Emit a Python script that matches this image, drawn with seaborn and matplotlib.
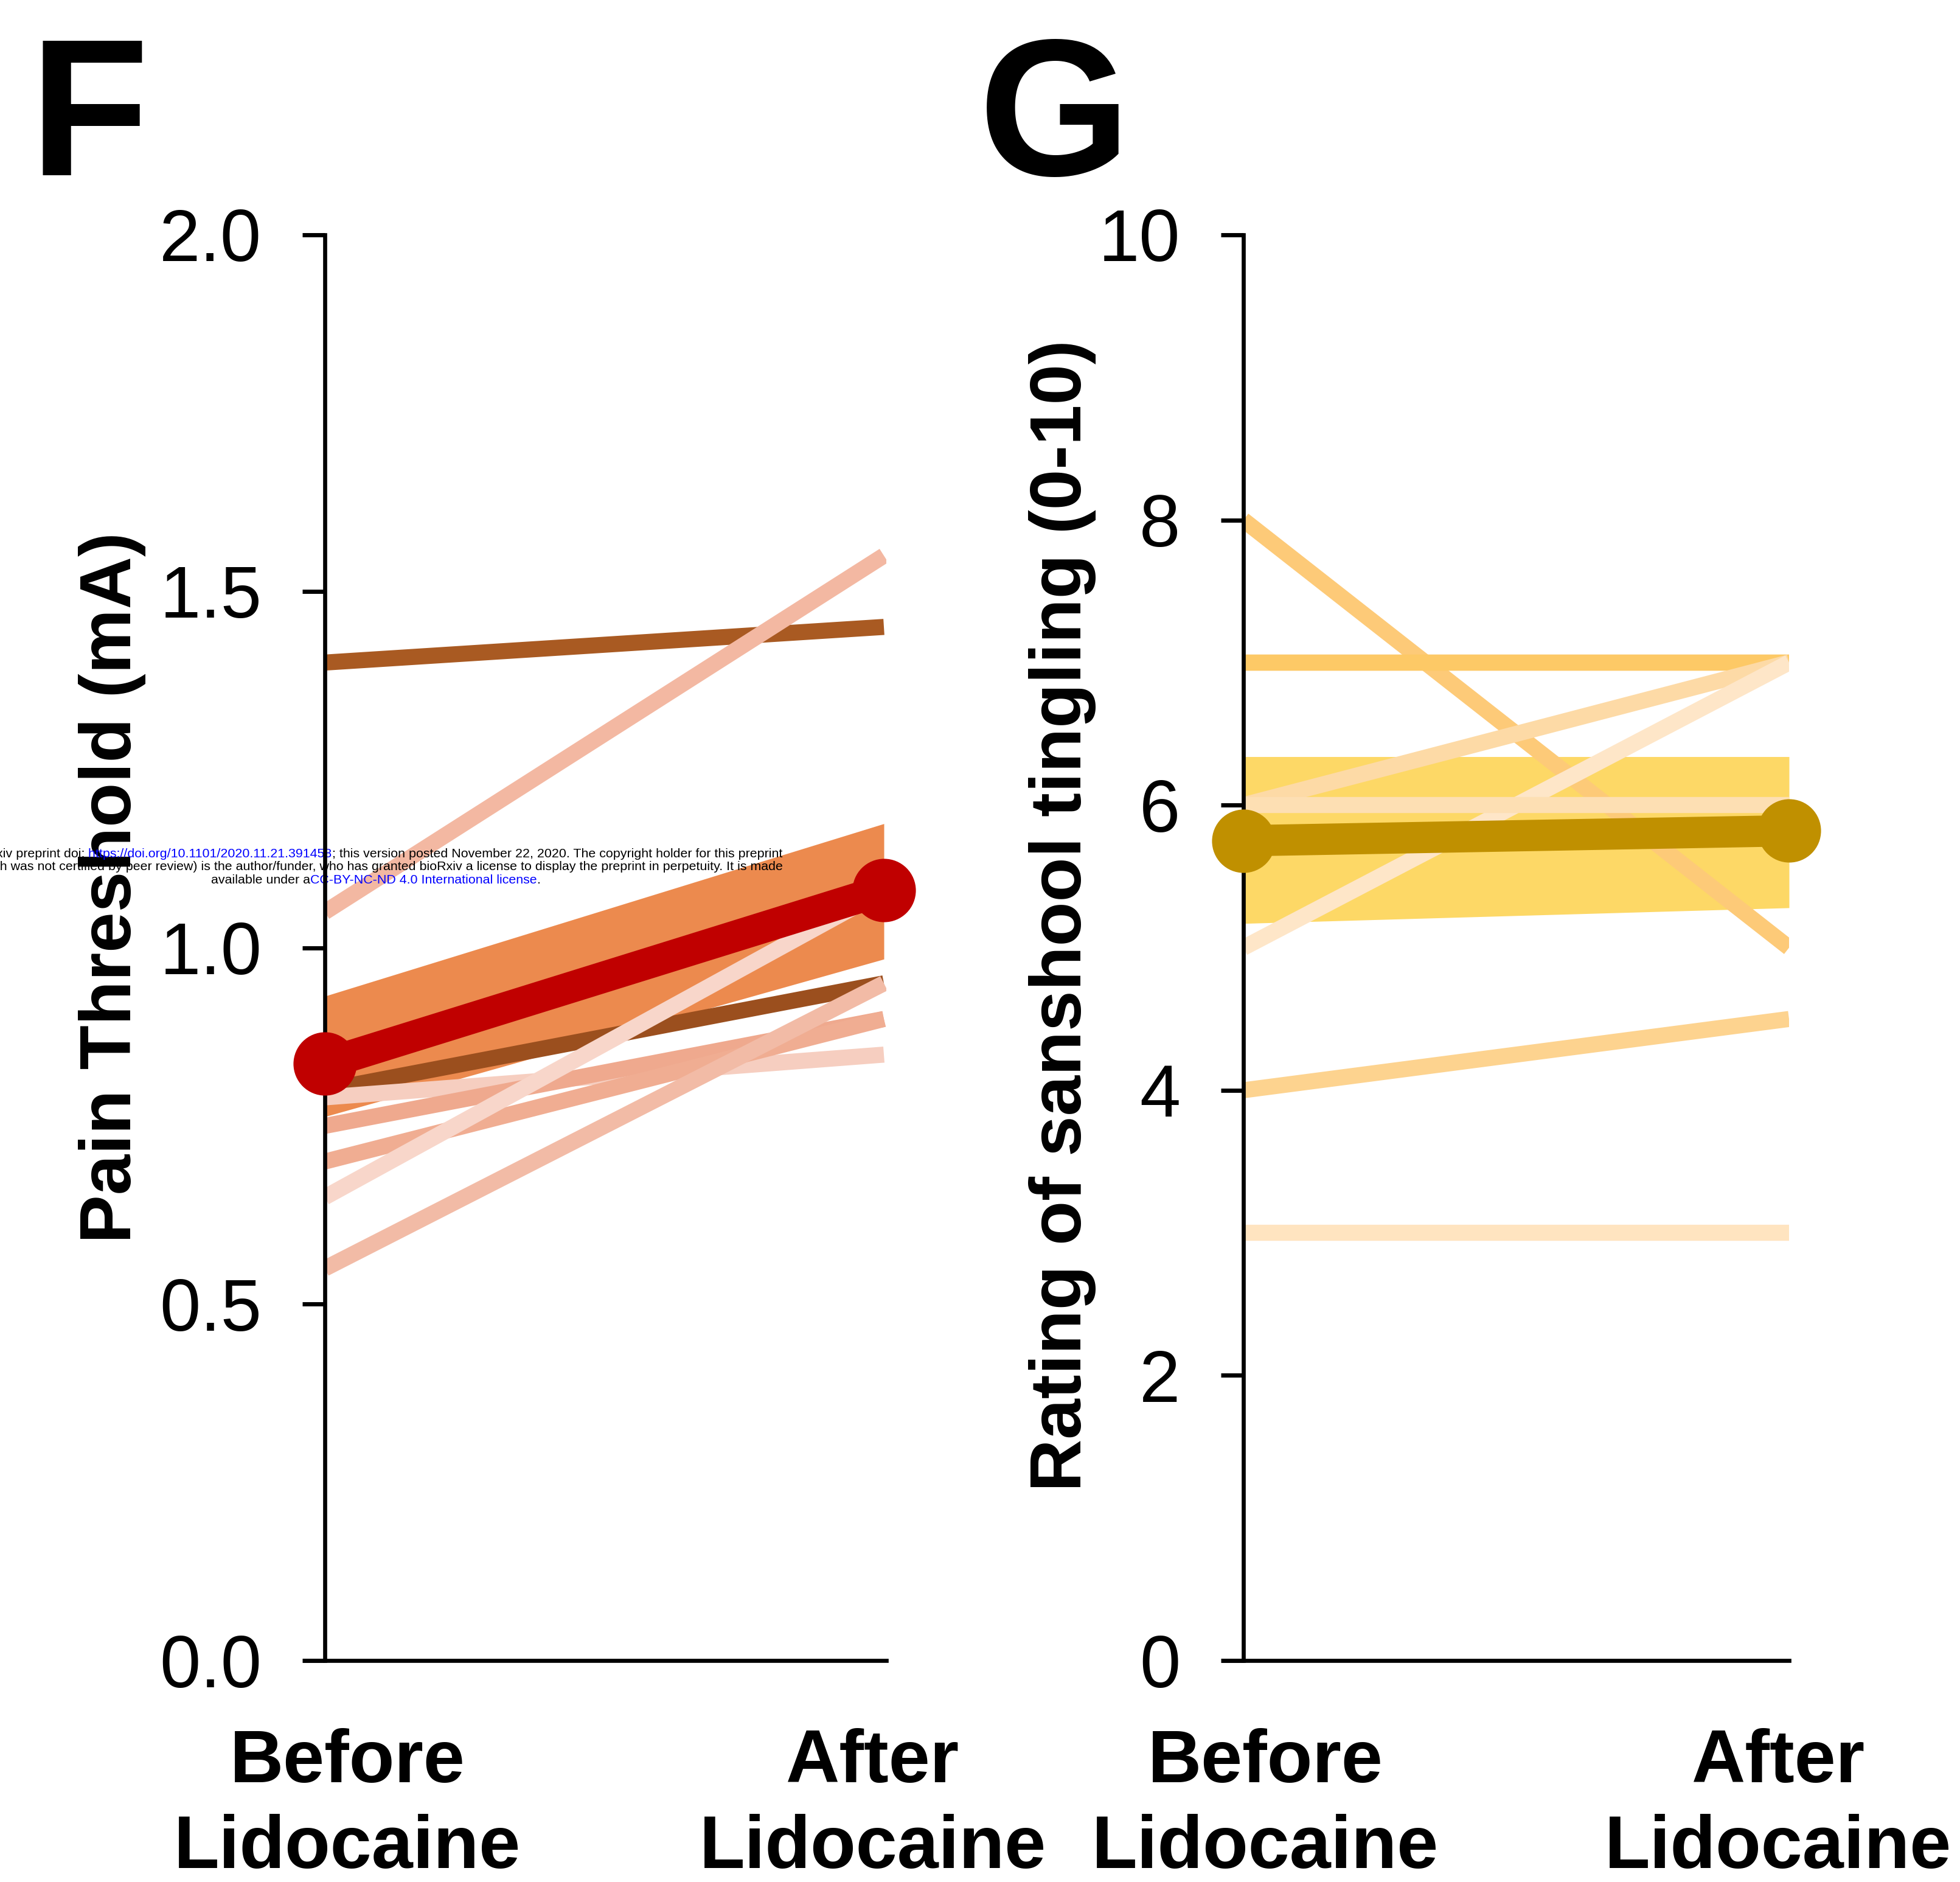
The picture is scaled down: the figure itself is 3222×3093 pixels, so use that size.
import matplotlib
matplotlib.use("Agg")
import matplotlib.pyplot as plt
from matplotlib.transforms import IdentityTransform
import seaborn as sns
import pandas as pd

sns.set_theme(style="ticks")
plt.rcParams['font.family'] = ['Liberation Sans', 'DejaVu Sans']
plt.rcParams['text.color'] = 'black'
plt.rcParams['axes.labelcolor'] = 'black'
plt.rcParams['xtick.color'] = 'black'
plt.rcParams['ytick.color'] = 'black'

# ---------------- data ----------------
conditions = ["Before\nLidocaine", "After\nLidocaine"]
cond_x = [0, 1]

# Panel F: pain threshold (mA)
pain_before = [1.40, 1.05, 0.80, 0.79, 0.75, 0.70, 0.65, 0.55]
pain_after = [1.45, 1.55, 0.95, 0.85, 0.90, 0.90, 1.08, 0.95]
pain_colors = ["#A95A22", "#F3B8A2", "#9B4F1E", "#F6CEC0",
               "#EFA98E", "#F0AD92", "#F8D6CA", "#F2BBA6"]
pain_mean = [0.837, 1.081]
pain_ci_low = [0.763, 0.984]
pain_ci_high = [0.932, 1.174]
pain_ticks = [0.0, 0.5, 1.0, 1.5, 2.0]
pain_ticklabels = ["0.0", "0.5", "1.0", "1.5", "2.0"]

# Panel G: sanshool tingling rating
ting_before = [8, 7, 7, 6, 5, 6, 4, 3]
ting_after = [5, 7, 7, 7, 7, 6, 4.5, 3]
ting_colors = ["#FDCA78", "#FDC966", "#FDC966", "#FDDAA6",
               "#FEE6C8", "#FDDFB3", "#FDD38F", "#FFE4C0"]
ting_mean = [5.75, 5.82]
ting_ci_low = [5.17, 5.28]
ting_ci_high = [6.34, 6.34]
ting_ticks = [0, 2, 4, 6, 8, 10]
ting_ticklabels = ["0", "2", "4", "6", "8", "10"]

# ---------------- figure ----------------
W, H = 3222, 3093
fig = plt.figure(figsize=(W / 100, H / 100), dpi=100)


def axrect(x0, x1, ytop, ybot):
    return [x0 / W, (H - ybot) / H, (x1 - x0) / W, (ybot - ytop) / H]


ax1 = fig.add_axes(axrect(534, 1457, 386, 2729))
ax2 = fig.add_axes(axrect(2044, 2941, 386, 2729))


def draw_panel(ax, before, after, colors, mean, lo, hi, band_color, mean_color,
               ticks, ticklabels, ylim, xmax, ylabel, label_xy):
    ax.fill_between(cond_x, lo, hi, color=band_color, lw=0, zorder=1)
    n = len(before)
    df = pd.DataFrame({
        "subject": [f"s{i}" for i in range(n)] * 2,
        "x": [0] * n + [1] * n,
        "value": list(before) + list(after),
    })
    pal = {f"s{i}": colors[i] for i in range(n)}
    sns.lineplot(data=df, x="x", y="value", hue="subject", palette=pal,
                 linewidth=19, legend=False, ax=ax, estimator=None,
                 sort=False, solid_capstyle="butt", zorder=2)
    sns.lineplot(x=cond_x, y=mean, color=mean_color, linewidth=37,
                 marker="o", markersize=75, markeredgewidth=0,
                 ax=ax, clip_on=False, zorder=3, solid_capstyle="butt",
                 estimator=None, sort=False)
    ax.set_xlim(0, xmax)
    ax.set_ylim(*ylim)
    ax.set_yticks(ticks)
    ax.set_yticklabels(ticklabels, fontsize=87, color="black")
    ax.set_xticks([0.04, 0.98])
    ax.set_xticklabels(conditions, fontsize=88, fontweight="bold",
                       linespacing=1.3, color="black")
    ax.tick_params(axis="y", length=26.6, width=5, pad=48, colors="black")
    ax.tick_params(axis="x", length=0, pad=80, colors="black")
    for s in ["top", "right"]:
        ax.spines[s].set_visible(False)
    for s in ["left", "bottom"]:
        ax.spines[s].set_linewidth(4.8)
        ax.spines[s].set_color("black")
    ax.set_xlabel("")
    ax.set_ylabel(ylabel, fontsize=86, fontweight="bold", color="black")
    ax.yaxis.set_label_coords(*label_xy)
    ax.yaxis.label.set_va("center")
    ax.set_facecolor("none")


draw_panel(ax1, pain_before, pain_after, pain_colors, pain_mean,
           pain_ci_low, pain_ci_high, "#EC8A4E", "#C00000",
           pain_ticks, pain_ticklabels, (0, 2), 923 / 919,
           "Pain Threshold (mA)", ((185 - 534) / 923, (2729 - 1459) / 2343))
draw_panel(ax2, ting_before, ting_after, ting_colors, ting_mean,
           ting_ci_low, ting_ci_high, "#FDD866", "#C09000",
           ting_ticks, ting_ticklabels, (0, 10), 1.0,
           "Rating of sanshool tingling (0-10)",
           ((1746 - 2044) / 897, (2729 - 1505) / 2343))

# panel letters
fig.text(49 / W, 1 - 288 / H, "F", fontsize=231, fontweight="bold",
         ha="left", va="baseline", color="black")
fig.text(1609 / W, 1 - 288 / H, "G", fontsize=231, fontweight="bold",
         ha="left", va="baseline", color="black")

# preprint notice (drawn between the data lines and the spine)
notice_lines = [
    (1409, [("bioRxiv preprint doi:", "black"),
            (" https://doi.org/10.1101/2020.11.21.391458", "#0000FF"),
            ("; this version posted November 22, 2020. The copyright holder for this preprint", "black")]),
    (1430, [("(which was not certified by peer review) is the author/funder, who has granted bioRxiv a license to display the preprint in perpetuity. It is made", "black")]),
    (1452, [("available under a", "black"),
            ("CC-BY-NC-ND 4.0 International license", "#0000FF"),
            (".", "black")]),
]
notice_cx = 618
notice_fs = 15.4
chains = []
for ybase, segs in notice_lines:
    first = ax1.text(0, H - ybase, segs[0][0], color=segs[0][1],
                     fontsize=notice_fs, transform=IdentityTransform(),
                     ha="left", va="baseline", clip_on=False, zorder=2.4)
    prev = first
    items = [first]
    for txt, col in segs[1:]:
        t = ax1.annotate(txt, xy=(1, 0), xycoords=prev, color=col,
                         fontsize=notice_fs, ha="left", va="bottom",
                         annotation_clip=False, zorder=2.4)
        items.append(t)
        prev = t
    chains.append(items)

fig.canvas.draw()
r = fig.canvas.get_renderer()
for items in chains:
    x0 = items[0].get_window_extent(r).x0
    x1 = items[-1].get_window_extent(r).x1
    width = x1 - x0
    items[0].set_x(notice_cx - width / 2)

fig.savefig("out.png", dpi=100, facecolor="white")
